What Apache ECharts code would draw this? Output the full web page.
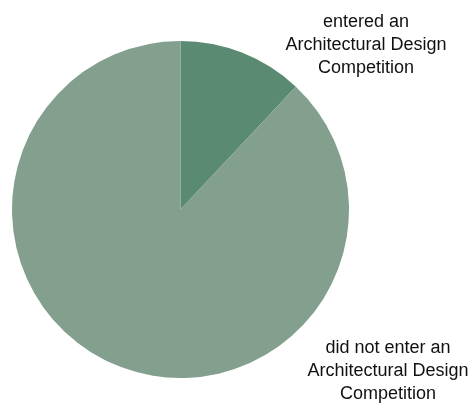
<!DOCTYPE html>
<html><head><meta charset="utf-8">
<script src="https://cdn.jsdelivr.net/npm/echarts@6/dist/echarts.min.js"></script>
<style>html,body{margin:0;padding:0;background:#fff}#c{width:475px;height:403px}</style>
</head><body><div id="c"></div>
<script>
const categories = ["entered an\nArchitectural Design\nCompetition", "did not enter an\nArchitectural Design\nCompetition"];
const values = [12, 88];
const colors = ["#5b8a72", "#839f8d"];
const labelPos = [[366, 45], [388, 371]];

const chart = echarts.init(document.getElementById('c'), null, {renderer: 'canvas'});
chart.setOption({
  animation: false,
  series: [{
    type: 'pie',
    center: [180.5, 209.5],
    radius: [0, 168.5],
    startAngle: 90,
    clockwise: true,
    data: categories.map((n, i) => ({name: n, value: values[i], itemStyle: {color: colors[i]}})),
    itemStyle: {borderWidth: 0},
    emphasis: {disabled: true},
    label: {
      show: true,
      position: 'outside',
      alignTo: 'none',
      edgeDistance: 0,
      bleedMargin: 0,
      formatter: '{b}',
      color: '#111',
      fontFamily: 'Liberation Sans, Arial, sans-serif',
      fontSize: 18,
      lineHeight: 23,
      align: 'center',
      width: 240,
      overflow: 'none'
    },
    labelLine: {show: false},
    labelLayout: function (p) {
      const pos = labelPos[p.dataIndex];
      return {x: pos[0], y: pos[1], align: 'center', verticalAlign: 'middle', hideOverlap: false, moveOverlap: false};
    }
  }]
});
</script></body></html>
